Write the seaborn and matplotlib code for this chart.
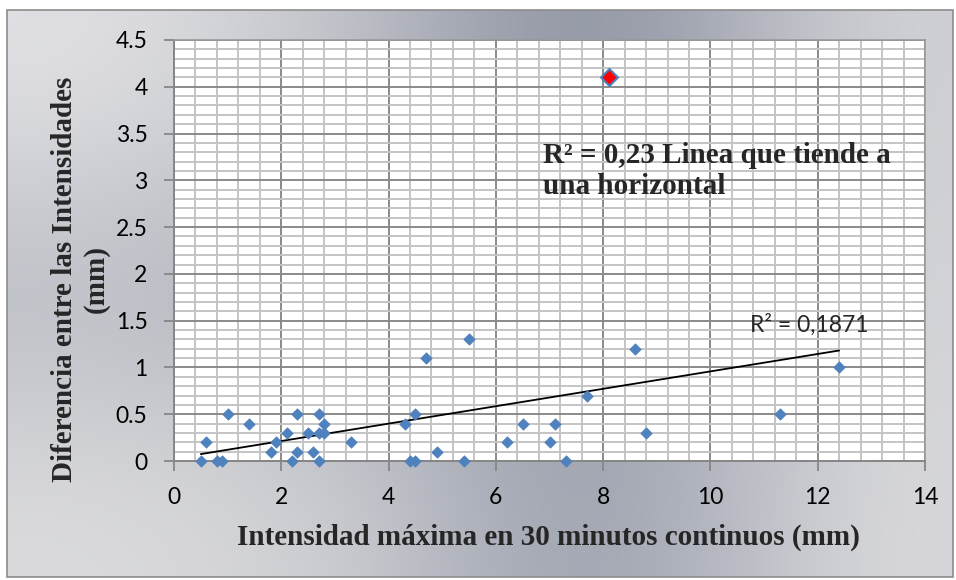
import numpy as np
import pandas as pd
import matplotlib
matplotlib.use("Agg")
import matplotlib.pyplot as plt
from matplotlib.ticker import MultipleLocator, FuncFormatter
from matplotlib.patches import Rectangle
import seaborn as sns

# ---------------- data ----------------
intensidad_max = [0.5, 0.6, 0.8, 0.9, 1.0, 1.4, 1.8, 1.9, 2.1, 2.2, 2.3, 2.3, 2.5,
                  2.6, 2.7, 2.7, 2.7, 2.8, 2.8, 3.3, 4.3, 4.4, 4.5, 4.5, 4.7, 4.9,
                  5.4, 5.5, 6.2, 6.5, 7.0, 7.1, 7.3, 7.7, 8.6, 8.8, 11.3, 12.4]
diferencia = [0.0, 0.2, 0.0, 0.0, 0.5, 0.4, 0.1, 0.2, 0.3, 0.0, 0.5, 0.1, 0.3,
              0.1, 0.5, 0.3, 0.0, 0.4, 0.3, 0.2, 0.4, 0.0, 0.5, 0.0, 1.1, 0.1,
              0.0, 1.3, 0.2, 0.4, 0.2, 0.4, 0.0, 0.7, 1.2, 0.3, 0.5, 1.0]
outlier_x = [8.1]
outlier_y = [4.1]

x_ticks = [0, 2, 4, 6, 8, 10, 12, 14]
y_ticks = [0, 0.5, 1, 1.5, 2, 2.5, 3, 3.5, 4, 4.5]

xlabel = "Intensidad máxima en 30 minutos continuos (mm)"
ylabel = "Diferencia entre las Intensidades\n(mm)"
note_big = "R² = 0,23 Linea que tiende a\nuna horizontal"
note_r2 = "R² = 0,1871"

df = pd.DataFrame({"x": intensidad_max, "y": diferencia})
df_out = pd.DataFrame({"x": outlier_x, "y": outlier_y})
df_all = pd.concat([df, df_out], ignore_index=True)

# ---------------- style ----------------
sns.set_theme(style="white")
plt.rcParams["font.family"] = ["Lato", "DejaVu Sans"]

W, H = 956, 580
fig = plt.figure(figsize=(W / 100, H / 100), dpi=100)

# background gradient (chart area)
bg = fig.add_axes([0, 0, 1, 1], zorder=0)
bg.set_axis_off()
hex_grid = [
    ["#e2e2e5", "#c2c4ca", "#7f8596", "#d2d3d7"],
    ["#b6b9c1", "#a4a8b2", "#8d93a2", "#d4d5d9"],
    ["#dcdcde", "#cfd0d4", "#8f95a4", "#dadadd"],
]
arr = np.array([[matplotlib.colors.to_rgb(c) for c in row] for row in hex_grid])
bg.imshow(arr, extent=[7 / W, 953 / W, 1 - 577 / H, 1 - 10 / H], aspect="auto",
          interpolation="bicubic", origin="upper", transform=bg.transAxes)
bg.set_xlim(0, 1)
bg.set_ylim(0, 1)
bg.add_patch(Rectangle((7 / W, 1 - 577 / H), 946 / W, 567 / H, fill=False,
                       edgecolor="#8c8c8c", lw=1.2, transform=bg.transAxes))

# main plot area
left, right, top, bottom = 174, 925, 40, 461
ax = fig.add_axes([left / W, 1 - bottom / H, (right - left) / W, (bottom - top) / H], zorder=2)
ax.set_facecolor("white")

sns.scatterplot(data=df, x="x", y="y", ax=ax, marker="D", s=34, color="#4f81bd",
                edgecolor="#4f81bd", linewidth=0.5, clip_on=False, zorder=4)
sns.scatterplot(data=df_out, x="x", y="y", ax=ax, marker="D", s=75, color="#ff0000",
                edgecolor="#4f81bd", linewidth=1.5, clip_on=False, zorder=5)
sns.regplot(data=df_all, x="x", y="y", ax=ax, scatter=False, ci=None, truncate=True,
            line_kws={"color": "black", "lw": 1.3, "zorder": 3})

ax.set_xlim(0, 14)
ax.set_ylim(0, 4.5)
ax.set_xticks(x_ticks)
ax.set_yticks(y_ticks)
ax.xaxis.set_minor_locator(MultipleLocator(0.4))
ax.yaxis.set_minor_locator(MultipleLocator(0.1))
fmt = FuncFormatter(lambda v, p: f"{v:g}")
ax.xaxis.set_major_formatter(fmt)
ax.yaxis.set_major_formatter(fmt)

ax.grid(which="minor", color="#c4c4c4", lw=1.4, zorder=0)
ax.grid(which="major", color="#8a8a8a", lw=1.4, zorder=1)
ax.set_axisbelow(True)

for side in ["top", "right"]:
    ax.spines[side].set_color("#9a9a9a")
    ax.spines[side].set_linewidth(1.2)
for side in ["left", "bottom"]:
    ax.spines[side].set_color("#868686")
    ax.spines[side].set_linewidth(1.4)

ax.tick_params(which="major", direction="out", length=7, width=1.3, color="#868686",
               labelsize=16.5, labelcolor="black", bottom=True, left=True)
ax.tick_params(axis="y", which="major", pad=12)
ax.tick_params(axis="x", which="major", pad=12)
ax.tick_params(which="minor", length=0)
for lab in ax.get_xticklabels() + ax.get_yticklabels():
    lab.set_family(["Lato", "DejaVu Sans"])

serif = ["Liberation Serif", "DejaVu Serif"]
xl = ax.set_xlabel(xlabel, family=serif, fontweight="bold", fontsize=21)
ax.xaxis.set_label_coords(0.498, -0.182)
xl.set_va("center")
yl = ax.set_ylabel(ylabel, family=serif, fontweight="bold", fontsize=21, linespacing=1.2)
ax.yaxis.set_label_coords(-0.125, 0.432)
yl.set_va("center")

ax.text(0.491, 0.688, note_big, transform=ax.transAxes, family=serif, fontweight="bold",
        fontsize=21, ha="left", va="center", linespacing=1.2, zorder=6)
ax.text(0.8455, 0.323, note_r2, transform=ax.transAxes, fontsize=16.5, ha="center",
        va="center", zorder=6, family=["Lato", "DejaVu Sans"])

fig.savefig("out.png", dpi=100, facecolor="white")
